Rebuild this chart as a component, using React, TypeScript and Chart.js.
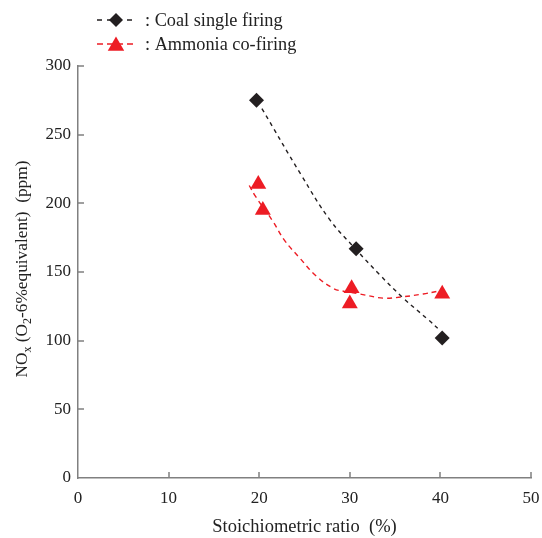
import React, { useEffect, useRef } from "react";
import { Chart, registerables } from "chart.js";

Chart.register(...registerables);

const coalX = [19.7, 30.7, 40.2];
const coalY = [275, 167, 102];
const ammoniaX = [19.9, 20.4, 30.2, 30.0, 40.2];
const ammoniaY = [214, 195, 138, 127, 134];

const coalFitX = [20.3, 24.6, 27.8, 30.6, 33.3, 35.9, 38.7, 39.7];
const coalFitY = [269, 221, 188, 167, 148, 131, 115, 109];
const ammoniaFitX = [18.9, 19.6, 21.5, 22.8, 24.5, 26.3, 28.2, 29.3, 31.1, 33.7, 35.9, 38.1, 39.7];
const ammoniaFitY = [213, 205, 187, 173, 160, 147, 138, 136, 134, 131, 132, 134, 136];

const xTicks = [0, 10, 20, 30, 40, 50];
const yTicks = [0, 50, 100, 150, 200, 250, 300];

const legendLabels = [": Coal single firing", ": Ammonia co-firing"];
const xTitle = "Stoichiometric ratio  (%)";

const BLACK = "#231f20";
const RED = "#ed1c24";
const AXIS = "#808080";
const TEXT = "#222";
const FONT = "'Liberation Serif', 'Times New Roman', serif";

function pts(xs: number[], ys: number[]) {
  return xs.map((x, i) => ({ x, y: ys[i] }));
}

function drawMarker(ctx: CanvasRenderingContext2D, style: string, r: number, x: number, y: number) {
  ctx.beginPath();
  if (style === "rectRot") {
    ctx.moveTo(x - r, y);
    ctx.lineTo(x, y - r);
    ctx.lineTo(x + r, y);
    ctx.lineTo(x, y + r);
  } else {
    const h = r * 1.5;
    const w = r * Math.sqrt(3);
    ctx.moveTo(x, y - r);
    ctx.lineTo(x + w / 2, y - r + h);
    ctx.lineTo(x - w / 2, y - r + h);
  }
  ctx.closePath();
  ctx.fill();
}

const customPlugin = {
  id: "custom",
  afterDraw(chart: any) {
    const ctx = chart.ctx as CanvasRenderingContext2D;
    const area = chart.chartArea;
    const xs = chart.scales.x;
    const ys = chart.scales.y;
    ctx.save();
    // inner tick marks
    ctx.strokeStyle = AXIS;
    ctx.lineWidth = 1.5;
    ctx.beginPath();
    xTicks.forEach((v) => {
      if (v === 0) return;
      const px = Math.round(xs.getPixelForValue(v));
      ctx.moveTo(px, area.bottom);
      ctx.lineTo(px, area.bottom - 6);
    });
    yTicks.forEach((v) => {
      if (v === 0) return;
      const py = Math.round(ys.getPixelForValue(v));
      ctx.moveTo(area.left, py);
      ctx.lineTo(area.left + 6, py);
    });
    ctx.stroke();

    // y title with subscripts
    const parts: [string, boolean][] = [
      ["NO", false],
      ["x", true],
      [" (O", false],
      ["2", true],
      ["-6%equivalent)  (ppm)", false],
    ];
    const big = `17.3px ${FONT}`;
    const small = `12px ${FONT}`;
    let total = 0;
    parts.forEach(([t, sub]) => {
      ctx.font = sub ? small : big;
      total += ctx.measureText(t).width;
    });
    ctx.translate(27, 269);
    ctx.rotate(-Math.PI / 2);
    ctx.fillStyle = TEXT;
    ctx.textBaseline = "alphabetic";
    ctx.textAlign = "left";
    let cx = -total / 2;
    parts.forEach(([t, sub]) => {
      ctx.font = sub ? small : big;
      ctx.fillText(t, cx, sub ? 4 : 0);
      cx += ctx.measureText(t).width;
    });
    ctx.restore();

    // legend
    ctx.save();
    const rows = [
      { y: 20, color: BLACK, style: "rectRot", r: 7, my: 20, dash: [5, 5] },
      { y: 44, color: RED, style: "triangle", r: 9.5, my: 46, dash: [6, 4] },
    ];
    rows.forEach((row, i) => {
      ctx.save();
      ctx.strokeStyle = row.color;
      ctx.lineWidth = 1.5;
      ctx.setLineDash(row.dash);
      ctx.beginPath();
      ctx.moveTo(97, row.y);
      ctx.lineTo(137, row.y);
      ctx.stroke();
      ctx.restore();
      ctx.fillStyle = row.color;
      drawMarker(ctx, row.style, row.r, 116, row.my);
      ctx.font = `18.3px ${FONT}`;
      ctx.fillStyle = TEXT;
      ctx.textBaseline = "middle";
      ctx.textAlign = "left";
      ctx.fillText(legendLabels[i], 145, row.y + 1);
    });
    ctx.restore();
  },
};

export default function App() {
  const ref = useRef<HTMLCanvasElement>(null);
  useEffect(() => {
    if (!ref.current) return;
    const chart = new Chart(ref.current, {
      type: "scatter",
      data: {
        datasets: [
          {
            label: "Coal single firing",
            data: pts(coalX, coalY),
            pointStyle: "rectRot",
            pointRadius: 7.5,
            pointHoverRadius: 7.5,
            backgroundColor: BLACK,
            borderColor: BLACK,
            borderWidth: 0,
            showLine: false,
          },
          {
            label: "Ammonia co-firing",
            data: pts(ammoniaX, ammoniaY),
            pointStyle: "triangle",
            pointRadius: 9.2,
            pointHoverRadius: 9.2,
            backgroundColor: RED,
            borderColor: RED,
            borderWidth: 0,
            showLine: false,
          },
          {
            label: "Coal fit",
            data: pts(coalFitX, coalFitY),
            showLine: true,
            pointRadius: 0,
            borderColor: BLACK,
            borderWidth: 1.4,
            borderDash: [4, 4],
            tension: 0.4,
          },
          {
            label: "Ammonia fit",
            data: pts(ammoniaFitX, ammoniaFitY),
            showLine: true,
            pointRadius: 0,
            borderColor: RED,
            borderWidth: 1.4,
            borderDash: [5, 4],
            tension: 0.4,
          },
        ],
      },
      options: {
        responsive: false,
        animation: false,
        layout: { padding: { top: 66, right: 11, left: 0, bottom: 0 } },
        plugins: {
          legend: { display: false },
          tooltip: { enabled: false },
        },
        scales: {
          x: {
            type: "linear",
            min: 0,
            max: 50,
            afterFit: (s: any) => {
              s.height = 60;
              s.paddingLeft = 0;
              s.paddingRight = 0;
            },
            afterBuildTicks: (s: any) => {
              s.ticks = xTicks.map((v) => ({ value: v }));
            },
            grid: { display: false, drawTicks: false },
            border: { display: true, color: AXIS, width: 1.5 },
            ticks: {
              padding: 10,
              color: TEXT,
              font: { family: FONT, size: 17 },
            },
            title: {
              display: true,
              text: xTitle,
              color: TEXT,
              font: { family: FONT, size: 18.5 },
              padding: { top: 0, bottom: 0 },
            },
          },
          y: {
            type: "linear",
            min: 0,
            max: 300,
            afterFit: (s: any) => {
              s.width = 78;
              s.paddingTop = 0;
              s.paddingBottom = 0;
            },
            afterBuildTicks: (s: any) => {
              s.ticks = yTicks.map((v) => ({ value: v }));
            },
            grid: { display: false, drawTicks: false },
            border: { display: true, color: AXIS, width: 1.5 },
            ticks: {
              padding: 7,
              color: TEXT,
              font: { family: FONT, size: 17 },
            },
          },
        },
      },
      plugins: [customPlugin],
    } as any);
    return () => chart.destroy();
  }, []);
  return (
    <div style={{ position: "fixed", left: 0, top: 0, width: 542, height: 538, background: "#fff" }}>
      <canvas ref={ref} width={542} height={538} />
    </div>
  );
}
